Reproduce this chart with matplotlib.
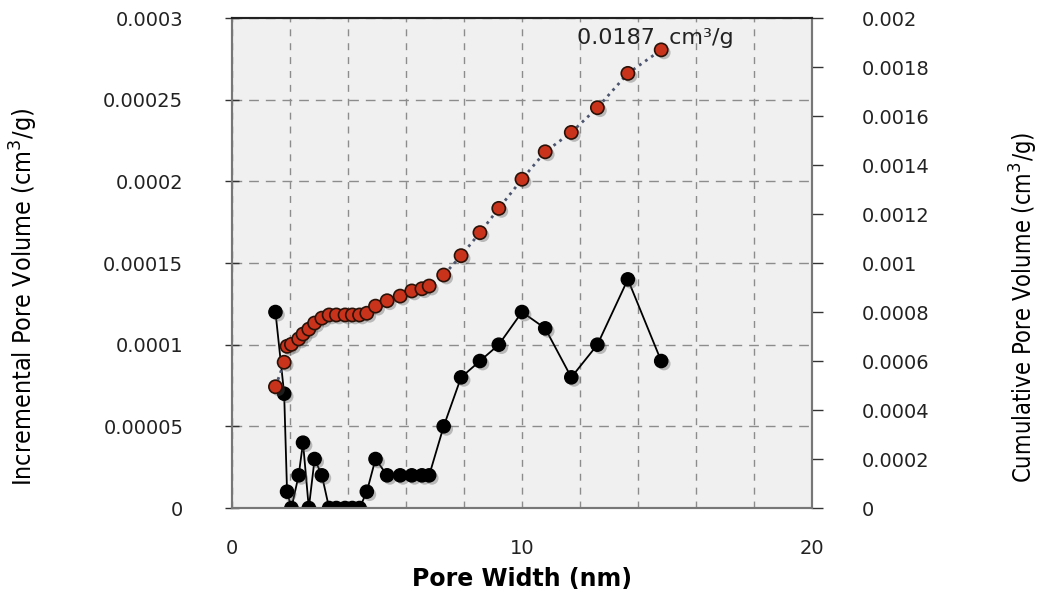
import matplotlib
matplotlib.use('Agg')
import matplotlib.pyplot as plt
import matplotlib.patheffects as pe
from matplotlib.ticker import MultipleLocator

# pore size distribution data
width_nm = [1.5, 1.8, 1.9, 2.05, 2.3, 2.45, 2.65, 2.85, 3.1, 3.35, 3.6, 3.9, 4.15, 4.4,
            4.65, 4.95, 5.35, 5.8, 6.2, 6.55, 6.8, 7.3, 7.9, 8.55, 9.2, 10.0, 10.8,
            11.7, 12.6, 13.65, 14.8]
incremental = [1.2e-4, 7e-5, 1e-5, 0, 2e-5, 4e-5, 0, 3e-5, 2e-5, 0, 0, 0, 0, 0,
               1e-5, 3e-5, 2e-5, 2e-5, 2e-5, 2e-5, 2e-5, 5e-5, 8e-5, 9e-5, 1e-4,
               1.2e-4, 1.1e-4, 8e-5, 1e-4, 1.4e-4, 9e-5]
cumulative = [0.000495, 0.000595, 0.00066, 0.000668, 0.00069, 0.00071, 0.00073,
              0.000755, 0.000775, 0.000788, 0.000788, 0.000788, 0.000788, 0.000788,
              0.000795, 0.000824, 0.000846, 0.000865, 0.000886, 0.000895, 0.000906,
              0.000951, 0.00103, 0.001124, 0.001223, 0.001342, 0.001454, 0.001533,
              0.001634, 0.001774, 0.00187]

left_ticks = [0, 0.00005, 0.0001, 0.00015, 0.0002, 0.00025, 0.0003]
left_labels = ['0', '0.00005', '0.0001', '0.00015', '0.0002', '0.00025', '0.0003']
right_ticks = [0, 0.0002, 0.0004, 0.0006, 0.0008, 0.001, 0.0012, 0.0014, 0.0016, 0.0018, 0.002]
right_labels = ['0', '0.0002', '0.0004', '0.0006', '0.0008', '0.001', '0.0012',
                '0.0014', '0.0016', '0.0018', '0.002']

tick_col = '#333333'
shadow = [pe.SimplePatchShadow(offset=(2, -2), alpha=0.35, shadow_rgbFace='#555555'), pe.Normal()]

fig = plt.figure(figsize=(10.42, 5.95), dpi=100)
ax = fig.add_axes([0.2226, 0.1462, 0.5567, 0.8235])
ax.set_facecolor('#f0f0f0')
ax2 = ax.twinx()

# incremental pore volume (left axis)
ax.plot(width_nm, incremental, '-', color='black', lw=1.3, zorder=3)
ax.plot(width_nm, incremental, 'o', ms=9.5, mfc='black', mec='black', zorder=4,
        path_effects=shadow)
# cumulative pore volume (right axis)
ax2.plot(width_nm, cumulative, ':', color='#4d5670', lw=2, zorder=2)
ax2.plot(width_nm, cumulative, 'o', ms=9.5, mfc='#c9331c', mec='#2a1208',
         mew=1.2, zorder=3, path_effects=shadow)

ax.set_xlim(0, 20)
ax.set_ylim(0, 0.0003)
ax2.set_ylim(0, 0.002)

ax.set_xticks([0, 10, 20])
ax.xaxis.set_minor_locator(MultipleLocator(2))
ax.set_yticks(left_ticks)
ax.set_yticklabels(left_labels)
ax2.set_yticks(right_ticks)
ax2.set_yticklabels(right_labels)

ax.grid(True, which='both', axis='x', ls=(0, (5, 5)), color='#8c8c8c', lw=1)
ax.grid(True, which='major', axis='y', ls=(0, (7, 5)), color='#8c8c8c', lw=1)
ax.set_axisbelow(True)

ax.tick_params(axis='x', which='major', length=0, pad=22, labelsize=14, colors=tick_col)
ax.tick_params(axis='x', which='minor', length=0)
ax.tick_params(axis='y', direction='inout', length=10, pad=30, labelsize=14,
               colors=tick_col, width=1)
ax2.tick_params(axis='y', direction='out', length=8, pad=28, labelsize=14,
                colors=tick_col, width=1)
for t in ax.get_xticklabels() + ax.get_yticklabels() + ax2.get_yticklabels():
    t.set_color('#222222')

for a in (ax, ax2):
    for s in a.spines.values():
        s.set_color('#777777')
        s.set_linewidth(1.5)
ax2.spines['top'].set_color('#222222')

ax.set_xlabel('Pore Width (nm)', fontsize=17, fontweight='bold')
ax.xaxis.set_label_coords(0.5, -0.12)
ax.set_ylabel('Incremental Pore Volume (cm$^3$/g)', fontsize=18,
              family='DejaVu Sans', fontstretch='condensed')
ax.yaxis.set_label_coords(-0.331, 0.43)
ax2.set_ylabel('Cumulative Pore Volume (cm$^3$/g)', fontsize=17,
               family='DejaVu Sans', fontstretch='condensed', rotation=90)
ax2.yaxis.set_label_coords(1.338, 0.41)

ax.text(11.9, 0.000288, '0.0187  cm\u00b3/g', fontsize=16, color='#222222',
        va='center', ha='left', zorder=5)

fig.savefig('out.png', dpi=100)
